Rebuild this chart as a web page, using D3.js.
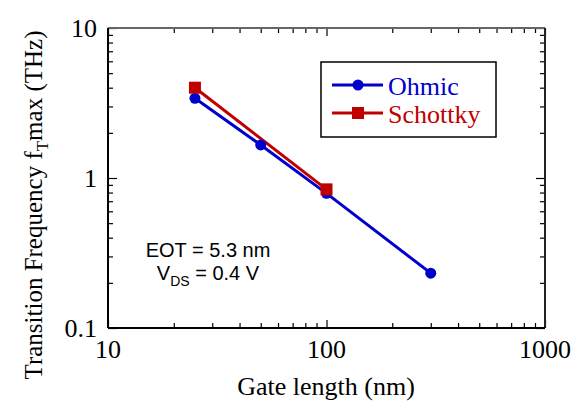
<!DOCTYPE html>
<html><head><meta charset="utf-8">
<script src="https://cdn.jsdelivr.net/npm/d3@7"></script>
<style>body{margin:0;background:#fff}svg{display:block}</style>
</head><body>
<script>
const gateOhmic = [25, 50, 100, 300];
const ftOhmic = [3.4, 1.66, 0.79, 0.232];
const gateSchottky = [25, 100];
const ftSchottky = [4.0, 0.84];
const xMajor = [10, 100, 1000];
const xMajorLabels = ["10", "100", "1000"];
const xMinor = [20,30,40,50,60,70,80,90,200,300,400,500,600,700,800,900];
const yMajor = [0.1, 1, 10];
const yMajorLabels = ["0.1", "1", "10"];
const yMinor = [0.2,0.3,0.4,0.5,0.6,0.7,0.8,0.9,2,3,4,5,6,7,8,9];
const seriesNames = ["Ohmic", "Schottky"];
const colors = ["#0000cc", "#c00000"];

const W = 582, H = 401;
const L = 108, R = 545, T = 28, B = 328;
const svg = d3.select("body").append("svg").attr("width", W).attr("height", H);
const x = d3.scaleLog().domain([10, 1000]).range([L, R]);
const y = d3.scaleLog().domain([0.1, 10]).range([B, T]);
const serif = "'Liberation Serif', 'Times New Roman', serif";
const sans = "'Liberation Sans', Arial, sans-serif";

function ticks(axisFn, scale, vals, size, tx, ty) {
  const g = svg.append("g").attr("transform", `translate(${tx},${ty})`)
    .call(axisFn(scale).tickValues(vals).tickSize(size).tickFormat(""));
  g.select(".domain").remove();
  g.selectAll("line").attr("stroke", "#000").attr("stroke-width", 1.2);
}
ticks(d3.axisBottom, x, xMajor, -8, 0, B);
ticks(d3.axisBottom, x, xMinor, -5, 0, B);
ticks(d3.axisTop, x, xMajor, -8, 0, T);
ticks(d3.axisTop, x, xMinor, -5, 0, T);
ticks(d3.axisLeft, y, yMajor, -9, L, 0);
ticks(d3.axisLeft, y, yMinor, -5, L, 0);
ticks(d3.axisRight, y, yMajor, -9, R, 0);
ticks(d3.axisRight, y, yMinor, -5, R, 0);

// frame
svg.append("line").attr("x1", L).attr("x2", R).attr("y1", T).attr("y2", T).attr("stroke", "#666").attr("stroke-width", 2);
svg.append("line").attr("x1", R).attr("x2", R).attr("y1", T).attr("y2", B).attr("stroke", "#222").attr("stroke-width", 2);
svg.append("line").attr("x1", L).attr("x2", L).attr("y1", T).attr("y2", B).attr("stroke", "#000").attr("stroke-width", 2);
svg.append("line").attr("x1", L).attr("x2", R).attr("y1", B).attr("y2", B).attr("stroke", "#000").attr("stroke-width", 2);

// tick labels
svg.selectAll(".xl").data(xMajor).enter().append("text")
  .attr("x", d => x(d)).attr("y", 358).attr("text-anchor", "middle")
  .attr("font-family", serif).attr("font-size", 26).text((d, i) => xMajorLabels[i]);
svg.selectAll(".yl").data(yMajor).enter().append("text")
  .attr("x", 97).attr("y", d => y(d) + 9).attr("text-anchor", "end")
  .attr("font-family", serif).attr("font-size", 26).text((d, i) => yMajorLabels[i]);

// axis titles
svg.append("text").attr("x", 326).attr("y", 395).attr("text-anchor", "middle")
  .attr("font-family", serif).attr("font-size", 26).text("Gate length (nm)");
const yt = svg.append("text").attr("transform", "translate(42,205) rotate(-90)")
  .attr("text-anchor", "middle").attr("font-family", serif).attr("font-size", 25);
yt.append("tspan").text("Transition Frequency f");
yt.append("tspan").attr("font-size", 17).attr("dy", 6).text("T");
yt.append("tspan").attr("dy", -6).text("max (THz)");

// data
const line = d3.line().x(d => x(d[0])).y(d => y(d[1]));
const ohm = gateOhmic.map((g, i) => [g, ftOhmic[i]]);
const sch = gateSchottky.map((g, i) => [g, ftSchottky[i]]);
svg.append("path").datum(ohm).attr("d", line).attr("fill", "none").attr("stroke", colors[0]).attr("stroke-width", 3);
svg.append("path").datum(sch).attr("d", line).attr("fill", "none").attr("stroke", colors[1]).attr("stroke-width", 3);
svg.selectAll(".oc").data(ohm).enter().append("circle")
  .attr("cx", d => x(d[0])).attr("cy", d => y(d[1])).attr("r", 5.5).attr("fill", colors[0]);
svg.selectAll(".sq").data(sch).enter().append("rect")
  .attr("x", d => x(d[0]) - 6).attr("y", d => y(d[1]) - 6).attr("width", 12).attr("height", 12).attr("fill", colors[1]);

// legend
svg.append("rect").attr("x", 321).attr("y", 62).attr("width", 175).attr("height", 75)
  .attr("fill", "#fff").attr("stroke", "#000").attr("stroke-width", 1.5);
const ly = [85, 113];
seriesNames.forEach((name, i) => {
  svg.append("line").attr("x1", 332).attr("x2", 383).attr("y1", ly[i]).attr("y2", ly[i])
    .attr("stroke", colors[i]).attr("stroke-width", 3);
  if (i === 0) svg.append("circle").attr("cx", 358).attr("cy", ly[i]).attr("r", 5.5).attr("fill", colors[i]);
  else svg.append("rect").attr("x", 352).attr("y", ly[i] - 6).attr("width", 12).attr("height", 12).attr("fill", colors[i]);
  svg.append("text").attr("x", 388).attr("y", ly[i] + 10).attr("font-family", serif)
    .attr("font-size", 26).attr("fill", colors[i]).text(name);
});

// annotation
svg.append("text").attr("x", 208).attr("y", 257).attr("text-anchor", "middle")
  .attr("font-family", sans).attr("font-size", 20).text("EOT = 5.3 nm");
const an = svg.append("text").attr("x", 208).attr("y", 280).attr("text-anchor", "middle")
  .attr("font-family", sans).attr("font-size", 20);
an.append("tspan").text("V");
an.append("tspan").attr("font-size", 14).attr("dy", 6).text("DS");
an.append("tspan").attr("dy", -6).text(" = 0.4 V");
</script>
</body></html>
